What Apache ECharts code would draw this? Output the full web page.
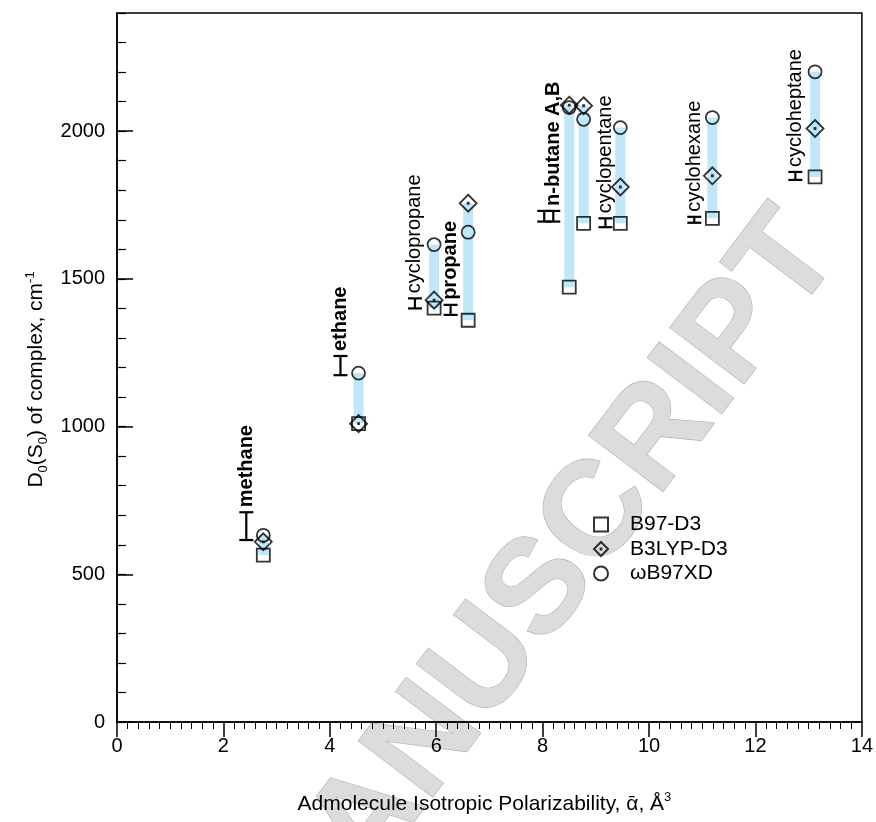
<!DOCTYPE html>
<html><head><meta charset="utf-8">
<script src="https://cdn.jsdelivr.net/npm/echarts@6/dist/echarts.min.js"></script>
<style>html,body{margin:0;padding:0;background:#fff}#c{width:876px;height:822px}</style>
</head><body><div id="c"></div>
<script>
// ---- data ----
const colX   = [2.75, 4.54, 5.96, 6.6, 8.5, 8.77, 9.46, 11.19, 13.12];
const b97d3  = [565, 1010, 1401, 1360, 1472, 1688, 1688, 1705, 1845];
const b3lyp  = [610, 1010, 1428, 1756, 2088, 2086, 1811, 1849, 2009];
const wb97xd = [632, 1181, 1616, 1658, 2080, 2040, 2012, 2046, 2201];

const expX    = [2.43, 4.2, 5.6, 6.27, 8.03, 8.2, 9.18, 10.85, 12.75];
const expLow  = [616, 1174, 1400, 1378, 1694, 1694, 1675, 1690, 1835];
const expHigh = [710, 1239, 1434, 1412, 1730, 1730, 1705, 1710, 1862];
const expNames = ['methane', 'ethane', 'cyclopropane', 'propane', '', 'n-butane A,B', 'cyclopentane', 'cyclohexane', 'cycloheptane'];
const expBold  = [true, true, false, true, false, true, false, false, false];

const seriesNames = ['B97-D3', 'B3LYP-D3', 'ωB97XD'];
const watermarkText = 'MANUSCRIPT';

// ---- chart ----
const FONT = "'Liberation Sans', Arial, Helvetica, sans-serif";
const chart = echarts.init(document.getElementById('c'), null, {renderer: 'canvas'});

const rangeData = colX.map((x, i) => [x, Math.min(b97d3[i], b3lyp[i], wb97xd[i]), Math.max(b97d3[i], b3lyp[i], wb97xd[i])]);
const expData = expX.map((x, i) => [x, expLow[i], expHigh[i]]);

const squarePath = 'path://M0,0 L20,0 L20,20 L0,20 Z';
const diamondPath = 'path://M10,0 L20,10 L10,20 L0,10 Z M9.4,9.4 L10.6,9.4 L10.6,10.6 L9.4,10.6 Z';
const markerStyle = {color: 'rgba(0,0,0,0)', borderColor: '#000', borderWidth: 1.8};

function scatter(name, vals, symbol, size) {
  return {
    type: 'scatter', name: name, symbol: symbol, symbolSize: size, z: 4,
    itemStyle: markerStyle, emphasis: {disabled: true}, silent: true,
    data: colX.map((x, i) => [x, vals[i]])
  };
}

const axisLineStyle = {color: '#000', width: 1.5};

chart.setOption({
  animation: false,
  backgroundColor: '#fff',
  textStyle: {fontFamily: FONT},
  grid: {left: 117, right: 12, top: 13, bottom: 100, show: true, borderColor: '#000', borderWidth: 1.5, backgroundColor: 'transparent'},
  graphic: [{
    type: 'text', x: 542, y: 590, rotation: 53 * Math.PI / 180, z: -10, silent: true,
    style: {
      text: watermarkText, fontSize: 135, fontWeight: 'bold', fontFamily: FONT,
      fill: '#dcdcdc', stroke: '#b0b0b0', lineWidth: 1.2, align: 'center', verticalAlign: 'middle',
      shadowBlur: 5, shadowColor: 'rgba(0,0,0,0.25)', shadowOffsetX: 3, shadowOffsetY: 3
    }
  }],
  legend: {
    orient: 'vertical', left: 593, top: 514, padding: 0, itemWidth: 48, itemHeight: 14, itemGap: 3.5,
    selectedMode: false, data: seriesNames,
    textStyle: {fontSize: 21, color: '#000', fontFamily: FONT, lineHeight: 21}
  },
  xAxis: {
    type: 'value', min: 0, max: 14, interval: 2,
    axisLine: {lineStyle: axisLineStyle},
    axisTick: {inside: false, length: 15, lineStyle: axisLineStyle},
    minorTick: {show: true, splitNumber: 10, length: 7, lineStyle: {color: '#000', width: 1}},
    splitLine: {show: false}, minorSplitLine: {show: false},
    axisLabel: {fontSize: 20, color: '#000', margin: 14, fontFamily: FONT},
    name: 'Admolecule Isotropic Polarizability, ᾱ, Å{sup|3}',
    nameLocation: 'middle', nameGap: 69,
    nameTextStyle: {fontSize: 21, color: '#000', fontFamily: FONT, lineHeight: 26, padding: [0, 10, 0, 0],
      rich: {sup: {fontSize: 13, lineHeight: 13, verticalAlign: 'top', fontFamily: FONT, color: '#000'}}}
  },
  yAxis: [{
    type: 'value', min: 0, max: 2400, interval: 500,
    axisLine: {show: true, lineStyle: axisLineStyle},
    axisTick: {inside: true, length: 16, lineStyle: axisLineStyle},
    splitLine: {show: false},
    axisLabel: {fontSize: 20, color: '#000', margin: 12, fontFamily: FONT, showMaxLabel: false,
      formatter: function (v) { return String(v); }},
    name: 'D{sub|0}(S{sub|0}) of complex, cm{sup|-1}',
    nameLocation: 'middle', nameGap: 64, nameRotate: 90,
    nameTextStyle: {fontSize: 21, color: '#000', fontFamily: FONT, lineHeight: 26, padding: [0, 24, 0, 0],
      rich: {
        sub: {fontSize: 13, lineHeight: 13, verticalAlign: 'bottom', fontFamily: FONT, color: '#000'},
        sup: {fontSize: 13, lineHeight: 13, verticalAlign: 'top', fontFamily: FONT, color: '#000'}
      }}
  }, {
    type: 'value', min: 0, max: 2400, interval: 100, position: 'left',
    axisLine: {show: false},
    axisTick: {inside: true, length: 9, lineStyle: {color: '#000', width: 1.2}},
    axisLabel: {show: false}, splitLine: {show: false}
  }],
  series: [
    {
      type: 'custom', name: 'range', z: 1, silent: true, data: rangeData,
      renderItem: function (params, api) {
        const top = api.coord([api.value(0), api.value(2)]);
        const bot = api.coord([api.value(0), api.value(1)]);
        return {type: 'rect', shape: {x: top[0] - 5, y: top[1], width: 10, height: bot[1] - top[1]},
          style: {fill: '#bfe7f9'}};
      }
    },
    scatter(seriesNames[0], b97d3, squarePath, 13),
    scatter(seriesNames[1], b3lyp, diamondPath, 17),
    scatter(seriesNames[2], wb97xd, 'circle', 13),
    {
      type: 'custom', name: 'experiment', z: 5, silent: true, data: expData,
      renderItem: function (params, api) {
        const i = params.dataIndex;
        const top = api.coord([api.value(0), api.value(2)]);
        const bot = api.coord([api.value(0), api.value(1)]);
        const cap = 7;
        const ls = {stroke: '#000', lineWidth: 2.2};
        const children = [
          {type: 'line', shape: {x1: top[0], y1: top[1], x2: bot[0], y2: bot[1]}, style: ls},
          {type: 'line', shape: {x1: top[0] - cap, y1: top[1], x2: top[0] + cap, y2: top[1]}, style: ls},
          {type: 'line', shape: {x1: bot[0] - cap, y1: bot[1], x2: bot[0] + cap, y2: bot[1]}, style: ls}
        ];
        if (expNames[i]) {
          children.push({
            type: 'text', x: top[0], y: top[1] - 5, rotation: Math.PI / 2,
            style: {text: expNames[i], fontSize: 20, fontWeight: expBold[i] ? 'bold' : 'normal',
              fontFamily: FONT, fill: '#000', align: 'left', verticalAlign: 'middle'}
          });
        }
        return {type: 'group', children: children};
      }
    }
  ]
});
</script>
</body></html>
